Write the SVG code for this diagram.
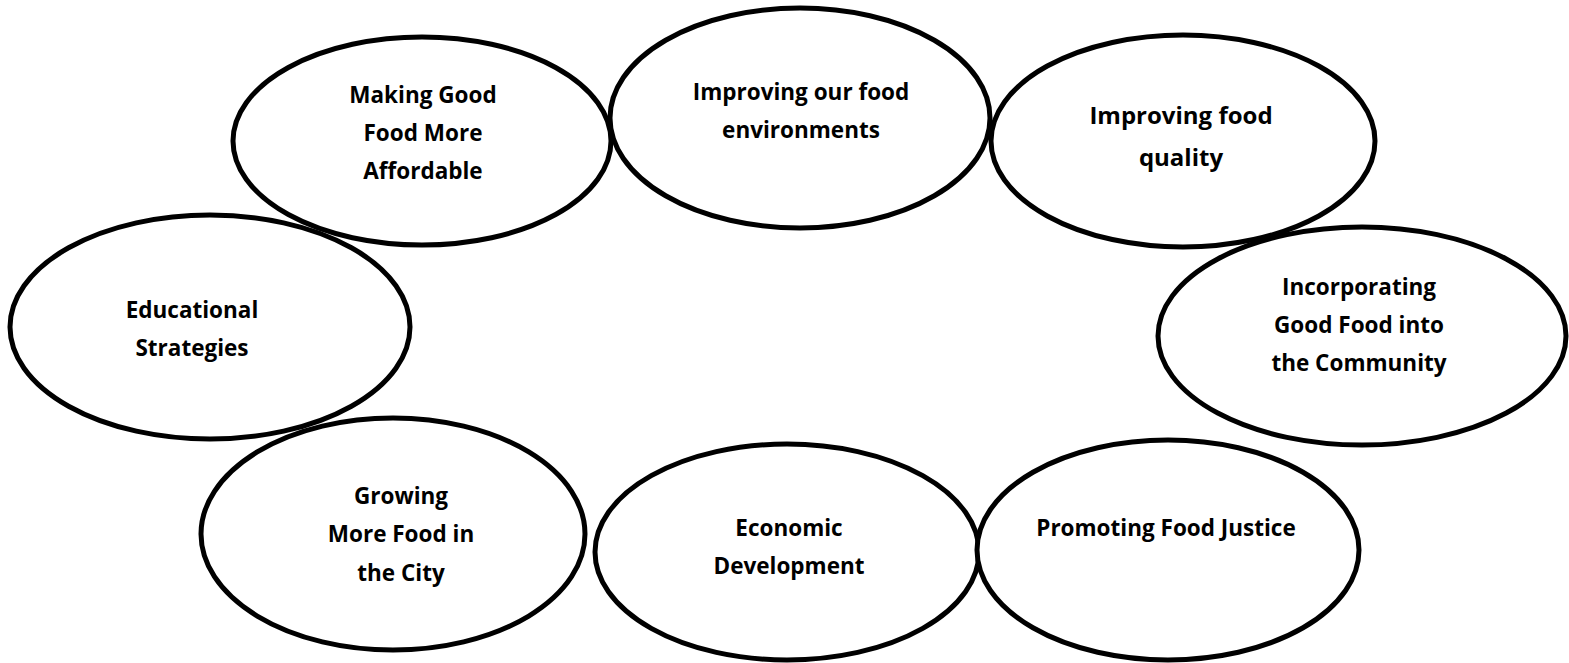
<svg xmlns="http://www.w3.org/2000/svg" width="1569" height="663" viewBox="0 0 1569 663">
<style>
.n ellipse{fill:#fff;stroke:#000;stroke-width:5}
.n text{font-family:"Open Sans",Lato,"Liberation Sans",sans-serif;font-weight:bold;font-size:22.5px;fill:#000;text-anchor:middle}
.n text.big{font-size:24px}
</style>
<rect width="1569" height="663" fill="#fff"/>
<g id="connectors"></g>
<g id="n-affordable" class="n">
<ellipse cx="422" cy="141" rx="189" ry="104"/>
<text x="423" y="103">Making Good</text>
<text x="423" y="141">Food More</text>
<text x="423" y="179">Affordable</text>
</g>
<g id="n-environments" class="n">
<ellipse cx="800" cy="118" rx="190" ry="110"/>
<text x="801" y="100">Improving our food</text>
<text x="801" y="138">environments</text>
</g>
<g id="n-quality" class="n">
<ellipse cx="1183" cy="141" rx="192" ry="106"/>
<text class="big" x="1181" y="124">Improving food</text>
<text class="big" x="1181" y="166">quality</text>
</g>
<g id="n-educational" class="n">
<ellipse cx="210" cy="327" rx="200" ry="112"/>
<text x="192" y="318">Educational</text>
<text x="192" y="356">Strategies</text>
</g>
<g id="n-community" class="n">
<ellipse cx="1362" cy="336" rx="204" ry="109"/>
<text x="1359" y="295">Incorporating</text>
<text x="1359" y="333">Good Food into</text>
<text x="1359" y="371">the Community</text>
</g>
<g id="n-growing" class="n">
<ellipse cx="393" cy="534" rx="192" ry="116"/>
<text x="401" y="504">Growing</text>
<text x="401" y="542">More Food in</text>
<text x="401" y="581">the City</text>
</g>
<g id="n-economic" class="n">
<ellipse cx="787" cy="552" rx="192" ry="108"/>
<text x="789" y="536">Economic</text>
<text x="789" y="574">Development</text>
</g>
<g id="n-justice" class="n">
<ellipse cx="1168" cy="550" rx="191" ry="110"/>
<text x="1166" y="536">Promoting Food Justice</text>
</g>
</svg>
